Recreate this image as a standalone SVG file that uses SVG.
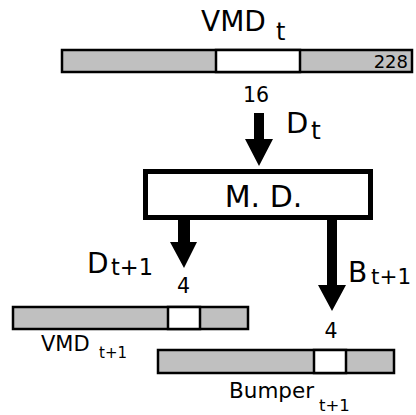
<svg xmlns="http://www.w3.org/2000/svg" width="416" height="415" viewBox="0 0 416 415">
<style>
text{font-family:"DejaVu Sans",sans-serif;fill:#000}
.bar{fill:#c0c0c0;stroke:#000;stroke-width:2.5}
.win{fill:#fff;stroke:#000;stroke-width:2.5}
.arr{fill:#000;stroke:none}
</style>
<rect width="416" height="415" fill="#fff"/>
<g id="vmd_t">
<rect class="bar" x="62" y="50" width="350" height="22"/>
<rect class="win" x="216" y="50" width="84" height="22"/>
<text x="408" y="68" font-size="18" text-anchor="end">228</text>
<text x="201" y="31" font-size="28">VMD</text>
<text x="276" y="40" font-size="24">t</text>
<text x="256" y="102" font-size="20.5" text-anchor="middle">16</text>
</g>
<g id="md">
<rect x="145.5" y="171.5" width="225" height="46" fill="#fff" stroke="#000" stroke-width="5"/>
<text x="263.5" y="207" font-size="30" text-anchor="middle">M. D.</text>
</g>
<g id="connectors">
<polygon class="arr" points="254,113 264,113 264,139 273,139 259,166 245,139 254,139"/>
<polygon class="arr" points="178,219 190,219 190,242 197,242 184,268 170,242 178,242"/>
<polygon class="arr" points="327,219 337,219 337,285 346,285 332,311 318,285 327,285"/>
</g>
<g id="labels">
<text x="286" y="133" font-size="29">D</text>
<text x="311" y="139" font-size="25">t</text>
<text x="87" y="273" font-size="28">D</text>
<text x="111" y="275" font-size="22.5">t+1</text>
<text x="183.5" y="293" font-size="20.5" text-anchor="middle">4</text>
<text x="348" y="282" font-size="28">B</text>
<text x="371" y="284" font-size="21.5">t+1</text>
<text x="331" y="338" font-size="20.5" text-anchor="middle">4</text>
</g>
<g id="vmd_t1">
<rect class="bar" x="13" y="307" width="235" height="22"/>
<rect class="win" x="168" y="307" width="32" height="22"/>
<text x="41" y="351" font-size="21">VMD</text>
<text x="99" y="358" font-size="15">t+1</text>
</g>
<g id="bumper_t1">
<rect class="bar" x="158" y="350" width="236" height="23"/>
<rect class="win" x="314" y="350" width="32" height="23"/>
<text x="229" y="398" font-size="21.5">Bumper</text>
<text x="319" y="411" font-size="16.5">t+1</text>
</g>
</svg>
